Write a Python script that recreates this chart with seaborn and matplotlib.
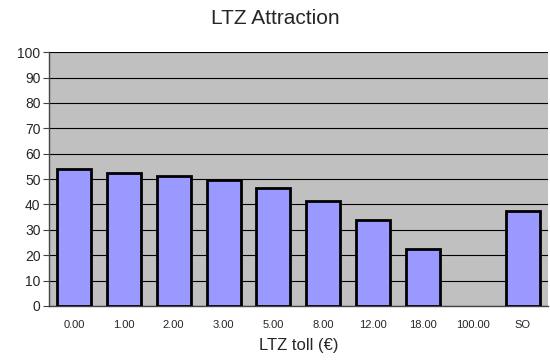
import matplotlib
matplotlib.use("Agg")
import matplotlib.pyplot as plt
import seaborn as sns
import pandas as pd

categories = ["0.00", "1.00", "2.00", "3.00", "5.00", "8.00", "12.00", "18.00", "100.00", "SO"]
values = [54.0, 52.4, 51.2, 49.5, 46.3, 41.3, 33.9, 22.6, 0.0, 37.5]
yticks = list(range(0, 101, 10))

sns.set_style("white")
plt.rcParams['font.family'] = ['Liberation Sans', 'DejaVu Sans']

df = pd.DataFrame({"cat": categories, "val": values})

fig = plt.figure(figsize=(5.5, 3.62), dpi=100)
ax = fig.add_axes([0.089, 0.155, 0.907, 0.701])
ax.set_facecolor("#C0C0C0")
sns.barplot(data=df, x="cat", y="val", ax=ax, color="#9999FF", width=0.68,
            edgecolor="black", linewidth=2, saturation=1, zorder=3)
for p in ax.patches:
    if p.get_height() == 0:
        p.set_edgecolor("none")
ax.set_ylim(0, 100)
ax.set_xlim(-0.5, len(categories) - 0.5)
ax.set_yticks(yticks)
ax.set_yticklabels([str(t) for t in yticks], fontsize=10)
ax.yaxis.grid(True, color="black", linewidth=0.8, zorder=1)
ax.set_axisbelow(True)
ax.tick_params(axis="y", direction="out", length=4, width=0.8, color="#444444", left=True, pad=2)

ax.set_xticks(range(len(categories)))
ax.set_xticklabels(categories, fontsize=8)
ax.tick_params(axis="x", length=0, pad=10)
ax.set_xticks([i - 0.5 for i in range(len(categories) + 1)], minor=True)
ax.tick_params(axis="x", which="minor", direction="out", length=4, width=0.8, color="#444444")

for s in ["top", "right"]:
    ax.spines[s].set_visible(False)
ax.spines["left"].set_color("#444444")
ax.spines["bottom"].set_color("#444444")
ax.spines["left"].set_linewidth(1.0)
ax.spines["bottom"].set_linewidth(1.0)

ax.set_xlabel("LTZ toll (€)", fontsize=12, labelpad=6)
ax.set_ylabel("")
fig.text(0.5, 0.948, "LTZ Attraction", ha="center", va="center", fontsize=15)

fig.savefig("out.png", dpi=100)
